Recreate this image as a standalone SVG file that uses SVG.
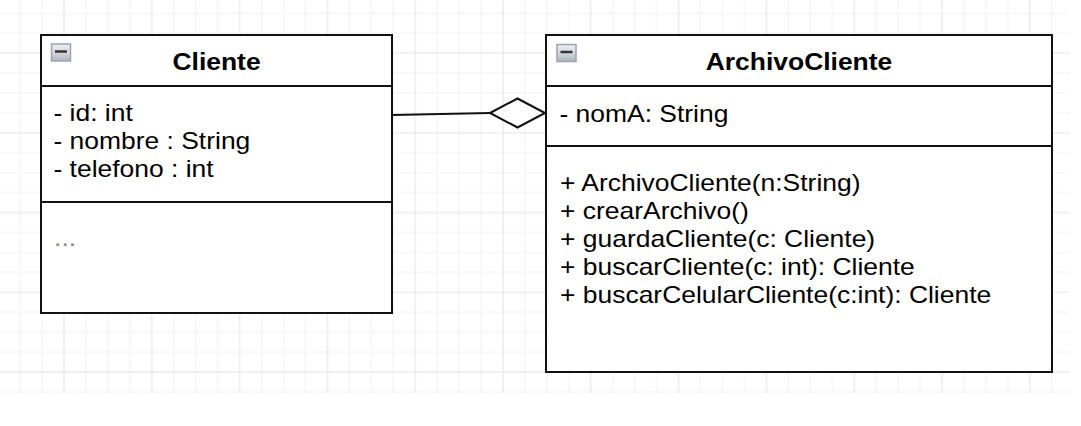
<svg xmlns="http://www.w3.org/2000/svg" width="1081" height="426" viewBox="0 0 1081 426">
  <style>
    .box { fill: #ffffff; stroke: #111111; stroke-width: 2; }
    .sep { stroke: #111111; stroke-width: 2; fill: none; }
    .title { font-family: "Liberation Sans", Arial, sans-serif; font-size: 23px; font-weight: bold; fill: #000000; text-anchor: middle; }
    .item { font-family: "Liberation Sans", Arial, sans-serif; font-size: 23px; fill: #000000; }
    .dots { font-family: "Liberation Sans", Arial, sans-serif; font-size: 23px; fill: #888888; }
    .edge { stroke: #111111; stroke-width: 2; fill: none; }
    .icon { fill: url(#iconGrad); stroke: #9aa3b0; stroke-width: 1.5; }
    .minus { stroke: #333333; stroke-width: 2.5; }
  </style>
  <defs>
    <pattern id="grid" patternUnits="userSpaceOnUse" x="-23.8" y="-26.65" width="87.8" height="79.75">
      <rect x="21.45" y="0" width="1" height="79.75" fill="#f2f2f2"/>
      <rect x="43.4" y="0" width="1" height="79.75" fill="#f2f2f2"/>
      <rect x="65.35" y="0" width="1" height="79.75" fill="#f2f2f2"/>
      <rect x="0" y="19.44" width="87.8" height="1" fill="#f2f2f2"/>
      <rect x="0" y="39.38" width="87.8" height="1" fill="#f2f2f2"/>
      <rect x="0" y="59.31" width="87.8" height="1" fill="#f2f2f2"/>
      <rect x="-0.5" y="0" width="1" height="79.75" fill="#e2e2e2"/>
      <rect x="87.3" y="0" width="1" height="79.75" fill="#e2e2e2"/>
      <rect x="0" y="-0.5" width="87.8" height="1" fill="#e2e2e2"/>
      <rect x="0" y="79.25" width="87.8" height="1" fill="#e2e2e2"/>
    </pattern>
    <linearGradient id="iconGrad" x1="0" y1="0" x2="0" y2="1">
      <stop offset="0" stop-color="#eceef2"/>
      <stop offset="0.5" stop-color="#d4d8df"/>
      <stop offset="1" stop-color="#aeb5c0"/>
    </linearGradient>
  </defs>

  <rect x="0" y="0" width="1081" height="426" fill="#ffffff"/>
  <rect x="0" y="0" width="1070" height="393" fill="url(#grid)"/>

  <g id="connectors">
    <line class="edge" x1="392" y1="115" x2="490" y2="113"/>
    <polygon class="edge" points="490,113 517.5,98.5 545,113 517.5,127.5" style="fill:#ffffff"/>
  </g>

  <g id="node-cliente">
    <rect class="box" x="41" y="35" width="351" height="278"/>
    <line class="sep" x1="41" y1="86" x2="392" y2="86"/>
    <line class="sep" x1="41" y1="202" x2="392" y2="202"/>
    <rect class="icon" x="51.5" y="44" width="19" height="17"/>
    <line class="minus" x1="55" y1="51.5" x2="67" y2="51.5"/>
    <g transform="scale(1.15,1)">
      <text class="title" x="188.3" y="70">Cliente</text>
      <text class="item" x="46.5" y="121">- id: int</text>
      <text class="item" x="46.5" y="149">- nombre : String</text>
      <text class="item" x="46.5" y="177">- telefono : int</text>
      <text class="dots" x="47" y="246">...</text>
    </g>
  </g>

  <g id="node-archivocliente">
    <rect class="box" x="546" y="35" width="506" height="337"/>
    <line class="sep" x1="546" y1="86" x2="1052" y2="86"/>
    <line class="sep" x1="546" y1="146" x2="1052" y2="146"/>
    <rect class="icon" x="557" y="44.5" width="19" height="17"/>
    <line class="minus" x1="560.5" y1="52" x2="572.5" y2="52"/>
    <g transform="scale(1.15,1)">
      <text class="title" x="694.8" y="70">ArchivoCliente</text>
      <text class="item" x="486.5" y="122">- nomA: String</text>
      <text class="item" x="487" y="191">+ ArchivoCliente(n:String)</text>
      <text class="item" x="487" y="219">+ crearArchivo()</text>
      <text class="item" x="487" y="247">+ guardaCliente(c: Cliente)</text>
      <text class="item" x="487" y="275">+ buscarCliente(c: int): Cliente</text>
      <text class="item" x="487" y="303">+ buscarCelularCliente(c:int): Cliente</text>
    </g>
  </g>
</svg>
